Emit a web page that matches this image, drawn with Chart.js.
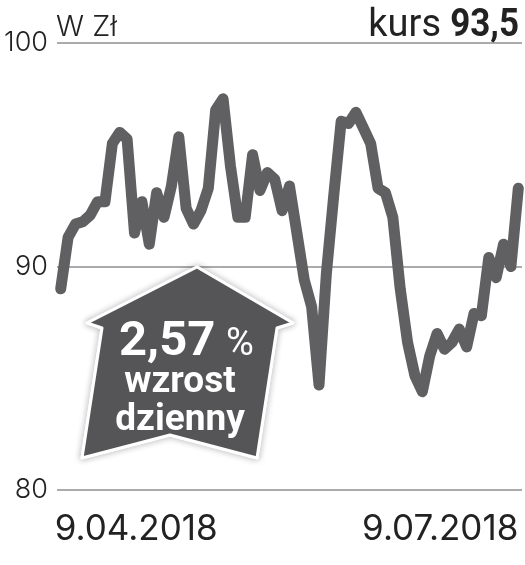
<!DOCTYPE html>
<html>
<head>
<meta charset="utf-8">
<title>kurs</title>
<script src="https://cdn.jsdelivr.net/npm/chart.js@4"></script>
<style>
  html, body { margin: 0; padding: 0; background: #fff; }
  canvas { display: block; }
</style>
</head>
<body>
<canvas id="kursChart" width="525" height="565"></canvas>
<script>
// trading days, GPW was closed on 1.05, 3.05 and 31.05
var days = [
    '9.04.2018', '10.04.2018', '11.04.2018', '12.04.2018', '13.04.2018',
    '16.04.2018', '17.04.2018', '18.04.2018', '19.04.2018', '20.04.2018',
    '23.04.2018', '24.04.2018', '25.04.2018', '26.04.2018', '27.04.2018',
    '30.04.2018', '2.05.2018', '4.05.2018',
    '7.05.2018', '8.05.2018', '9.05.2018', '10.05.2018', '11.05.2018',
    '14.05.2018', '15.05.2018', '16.05.2018', '17.05.2018', '18.05.2018',
    '21.05.2018', '22.05.2018', '23.05.2018', '24.05.2018', '25.05.2018',
    '28.05.2018', '29.05.2018', '30.05.2018', '1.06.2018',
    '4.06.2018', '5.06.2018', '6.06.2018', '7.06.2018', '8.06.2018',
    '11.06.2018', '12.06.2018', '13.06.2018', '14.06.2018', '15.06.2018',
    '18.06.2018', '19.06.2018', '20.06.2018', '21.06.2018', '22.06.2018',
    '25.06.2018', '26.06.2018', '27.06.2018', '28.06.2018', '29.06.2018',
    '2.07.2018', '3.07.2018', '4.07.2018', '5.07.2018', '6.07.2018',
    '9.07.2018'
];

var kurs = [
    89.0, 91.3, 91.9, 92.0, 92.3, 92.9, 92.9, 95.5, 96.0, 95.7,
    91.5, 92.9, 91.0, 93.3, 92.2, 93.6, 95.8, 92.6, 91.9, 92.5,
    93.5, 97.0, 97.5, 94.5, 92.2, 92.2, 95.0, 93.4, 94.2, 93.9,
    92.5, 93.6, 91.5, 89.4, 88.2, 84.7, 89.7, 93.2, 96.5, 96.4,
    96.9, 96.2, 95.5, 93.5, 93.3, 92.2, 89.0, 86.6, 85.1, 84.4,
    86.0, 87.0, 86.3, 86.6, 87.2, 86.4, 87.9, 87.8, 90.4, 89.5,
    91.0, 90.0, 93.5
];

var yTicks = [80, 90, 100];

// header texts and the arrow with the daily change
var labels = {
    beforeDraw: function (chart) {
        // first date starts a bit left of the first point
        var items = chart.scales.x.getLabelItems();
        items[0].options.translation[0] -= 6;
    },
    afterDraw: function (chart) {
        var c = chart.ctx;
        c.save();

        c.textBaseline = 'alphabetic';
        c.fillStyle = '#222';
        c.textAlign = 'left';
        c.font = '300 29px Inter';
        c.fillText('W Zł', 56, 36);

        c.textAlign = 'right';
        c.font = '400 38px Roboto';
        c.fillText('kurs', 441, 36);
        c.save();
        c.translate(519, 36);
        c.scale(0.92, 1);
        c.font = 'bold 38px Roboto';
        c.fillText('93,5', 0, 0);
        c.restore();

        var arrow = [[197, 267], [293, 323], [277, 328], [257, 458], [170, 435],
                     [82, 458], [102, 328], [87, 323]];
        c.beginPath();
        arrow.forEach(function (p, i) {
            if (i === 0) c.moveTo(p[0], p[1]);
            else c.lineTo(p[0], p[1]);
        });
        c.closePath();
        c.lineJoin = 'round';
        c.shadowColor = 'rgba(0,0,0,0.45)';
        c.shadowBlur = 6;
        c.strokeStyle = '#fff';
        c.lineWidth = 3;
        c.stroke();
        c.shadowBlur = 0;
        c.shadowColor = 'transparent';
        c.fillStyle = '#555557';
        c.fill();
        c.stroke();

        c.fillStyle = '#fff';
        c.textAlign = 'left';
        c.font = 'bold 49px Roboto';
        c.fillText('2,57', 119, 355);
        c.font = '400 38px Roboto';
        c.fillText('%', 226, 355);
        c.textAlign = 'center';
        c.font = 'bold 37px Roboto';
        c.fillText('wzrost', 180, 392);
        c.fillText('dzienny', 180, 430);

        c.restore();
    }
};

var ctx = document.getElementById('kursChart').getContext('2d');
var chart = new Chart(ctx, {
    type: 'line',
    data: {
        labels: days,
        datasets: [{
            data: kurs,
            borderColor: '#606062',
            borderWidth: 11,
            borderCapStyle: 'round',
            borderJoinStyle: 'round',
            tension: 0,
            pointRadius: 0,
            clip: false
        }]
    },
    plugins: [labels],
    options: {
        responsive: false,
        animation: false,
        layout: { padding: { top: 43, right: 3, left: 0, bottom: 0 } },
        plugins: { legend: { display: false }, tooltip: { enabled: false } },
        scales: {
            x: {
                offset: true,
                grid: { display: false },
                border: { display: false },
                afterFit: function (scale) {
                    scale.height = 75;
                    scale.paddingLeft = 0;
                    scale.paddingRight = 0;
                },
                ticks: {
                    autoSkip: false,
                    maxRotation: 0,
                    align: 'inner',
                    padding: 10,
                    color: '#222',
                    font: { family: 'Inter', size: 35, weight: '400' },
                    callback: function (value, i) {
                        return (i === 0 || i === days.length - 1) ? days[i] : '';
                    }
                }
            },
            y: {
                min: 80,
                max: 100,
                afterFit: function (scale) { scale.width = 57; },
                afterBuildTicks: function (scale) {
                    scale.ticks = yTicks.map(function (v) { return { value: v }; });
                },
                grid: { color: '#ababab', lineWidth: 2, drawTicks: false },
                border: { display: false },
                ticks: {
                    padding: 9,
                    color: '#222',
                    font: { family: 'Inter', size: 27, weight: '300' }
                }
            }
        }
    }
});
</script>
</body>
</html>
